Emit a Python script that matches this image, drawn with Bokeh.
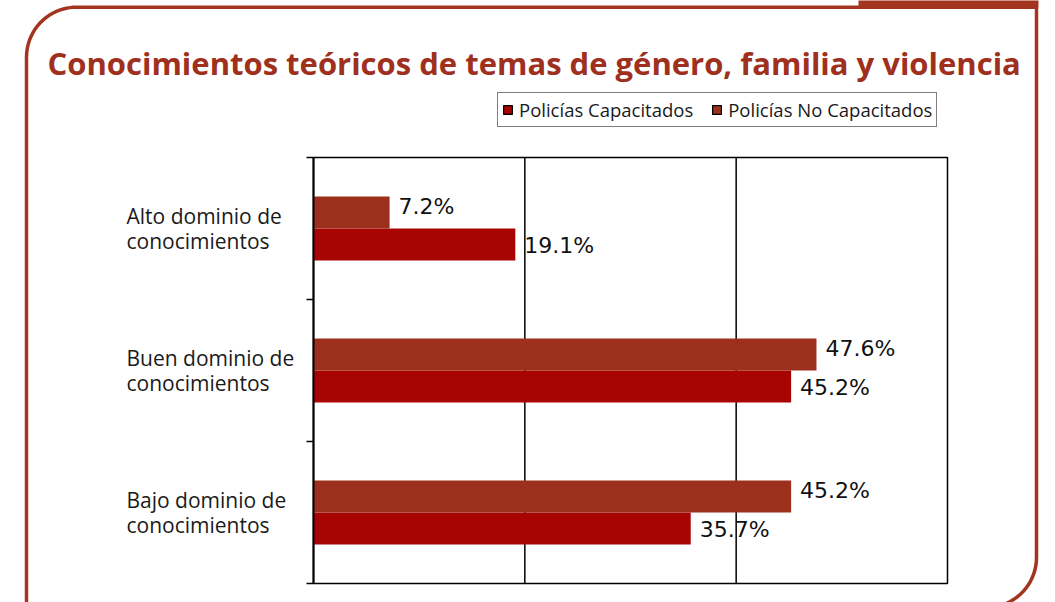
import numpy as np
from bokeh.plotting import figure
from bokeh.models import (ColumnDataSource, Range1d, LabelSet, Label,
                          Legend, LegendItem, PolyAnnotation, BoxAnnotation)
from bokeh.core.properties import value
from bokeh.embed import file_html
from bokeh.resources import INLINE

# ---- data ----
categories = ["Alto dominio de\nconocimientos",
              "Buen dominio de\nconocimientos",
              "Bajo dominio de\nconocimientos"]
capacitados = [19.1, 45.2, 35.7]
no_capacitados = [7.2, 47.6, 45.2]
series_names = ["Policías Capacitados", "Policías No Capacitados"]
title_text = "Conocimientos teóricos de temas de género, familia y violencia"
x_max = 60
grid_values = [20, 40]

RED = "#A90404"
BROWN = "#9C301D"
FRAME = "#A33520"

W, H = 1055, 602
# plot-area placement on the canvas (px)
PL, PR, PT, PB = 313, 947, 157, 583

n = len(categories)
kx = (PR - PL) / x_max
ky = (PB - PT) / n
x_range = Range1d(-PL / kx, x_max + (W - PR) / kx)
y_range = Range1d(-(H - PB) / ky, n + PT / ky)

centers = [n - 0.5 - i for i in range(n)]
bar_h = 0.225

src_cap = ColumnDataSource(dict(
    y=[c - bar_h / 2 for c in centers], v=capacitados,
    lab=[f"{v:.1f}%" for v in capacitados]))
src_no = ColumnDataSource(dict(
    y=[c + bar_h / 2 for c in centers], v=no_capacitados,
    lab=[f"{v:.1f}%" for v in no_capacitados]))

p = figure(width=W, height=H, output_backend="svg", toolbar_location=None,
           x_range=x_range, y_range=y_range,
           min_border=0, min_border_left=0, min_border_right=0,
           min_border_top=0, min_border_bottom=0)
p.axis.visible = False
p.grid.visible = False
p.outline_line_color = None
p.background_fill_color = "white"
p.border_fill_color = "white"

# plot area: grid lines, box, axis ticks
p.segment(x0=grid_values, y0=0, x1=grid_values, y1=n, line_color="black", line_width=1.5)
p.quad(left=0, right=x_max, bottom=0, top=n, fill_color=None,
       line_color="black", line_width=1.5)
p.ray(x=0, y=list(range(n + 1)), length=7, length_units="screen", angle=np.pi,
      line_color="black", line_width=1.5)

# bars
r_cap = p.hbar(y="y", right="v", left=0, height=bar_h, source=src_cap,
               fill_color=RED, line_color=None)
r_no = p.hbar(y="y", right="v", left=0, height=bar_h, source=src_no,
              fill_color=BROWN, line_color=None)
p.segment(x0=0, y0=0, x1=0, y1=n, line_color="black", line_width=2)

common = dict(x="v", y="y", text="lab", x_offset=9, text_font=value("DejaVu Sans"),
              text_font_size="22px", text_color="#111111", text_baseline="middle")
p.add_layout(LabelSet(source=src_no, y_offset=6, **common))
p.add_layout(LabelSet(source=src_cap, y_offset=-1, **common))

# category labels (left aligned)
for c, name in zip(centers, categories):
    p.add_layout(Label(x=126, x_units="screen", y=c, y_units="data", text=name,
                       text_font="Open Sans", text_font_size="21px",
                       text_color="#1a1a1a", text_align="left",
                       text_baseline="middle", text_line_height=0.88))

# title
p.add_layout(Label(x=47, x_units="screen", y=H - 62, y_units="screen",
                   text=title_text, text_font="Open Sans",
                   text_font_style="bold", text_font_size="31px",
                   text_color="#A0301E", text_align="left",
                   text_baseline="alphabetic"))

# legend swatches with black borders (hidden twins of the bars)
r_leg_cap = p.hbar(y="y", right="v", left=0, height=bar_h, source=src_cap,
                   fill_color=RED, line_color="black", line_width=1.2, visible=False)
r_leg_no = p.hbar(y="y", right="v", left=0, height=bar_h, source=src_no,
                  fill_color=BROWN, line_color="black", line_width=1.2, visible=False)
legend = Legend(items=[LegendItem(label=series_names[0], renderers=[r_leg_cap]),
                       LegendItem(label=series_names[1], renderers=[r_leg_no])],
                orientation="horizontal", location=(497, H - 127),
                glyph_width=11, glyph_height=11, label_standoff=6, spacing=18,
                padding=4, margin=0, label_height=20,
                label_text_font="Open Sans", label_text_font_size="18.5px",
                label_text_color="#1a1a1a",
                inactive_fill_alpha=0,
                border_line_color="black", border_line_width=1.5,
                background_fill_color="white", background_fill_alpha=1)
p.add_layout(legend)

# rounded decorative frame (canvas px, y measured from the top)
R = 50
top, left, right, bot_r = 6.7, 26, 1036, 557
pts = [(left, 700), (left, top + R)]
for a in np.linspace(np.pi, 1.5 * np.pi, 20):
    pts.append((left + R + R * np.cos(a), top + R + R * np.sin(a)))
pts += [(right, top), (right, bot_r)]
for a in np.linspace(0, 0.5 * np.pi, 20):
    pts.append((right - R + R * np.cos(a), bot_r + R * np.sin(a)))
pts += [(left - 40, bot_r + R), (left - 40, 700)]
p.add_layout(PolyAnnotation(xs=[x for x, _ in pts], ys=[H - y for _, y in pts],
                            xs_units="screen", ys_units="screen",
                            fill_alpha=0, line_color=FRAME, line_alpha=1,
                            line_width=3.5))
# tab on the top right
p.add_layout(BoxAnnotation(left=858, right=1038, top=H + 2, bottom=H - 7,
                           left_units="screen", right_units="screen",
                           top_units="screen", bottom_units="screen",
                           fill_color=FRAME, fill_alpha=1, line_color=None))

open("out.html", "w").write(file_html(p, INLINE))
